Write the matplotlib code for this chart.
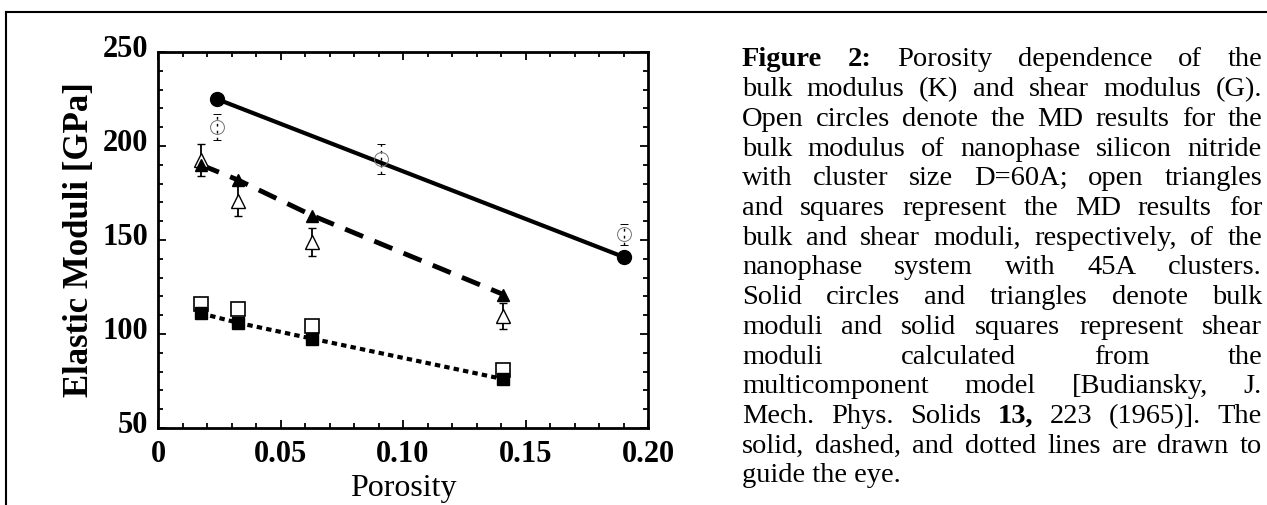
import numpy as np
import matplotlib
matplotlib.use("Agg")
import matplotlib.pyplot as plt
from matplotlib.lines import Line2D
from matplotlib.transforms import ScaledTranslation

# ---- data ----
por_60 = [0.024, 0.091, 0.19]
K_md_60 = [210, 193, 153]
K_md_60_err = [7, 8, 5.5]
por_60_model = [0.024, 0.19]
K_model_60 = [225, 141]

por_45 = [0.0175, 0.0325, 0.063, 0.141]
K_md_45 = [192.5, 171, 149, 109.5]
K_md_45_err = [8.5, 8, 7.5, 7]
K_model_45 = [190, 182, 163, 121]
G_md_45 = [116, 113.5, 104.5, 81]
G_model_45 = [111, 106, 97.5, 76]

xticks = [0, 0.05, 0.10, 0.15, 0.20]
xticklabels = ["0", "0.05", "0.10", "0.15", "0.20"]
yticks = [50, 100, 150, 200, 250]

caption = [
    "!Figure !2: Porosity dependence of the",
    "bulk modulus (K) and shear modulus (G).",
    "Open circles denote the MD results for the",
    "bulk modulus of nanophase silicon nitride",
    "with cluster size D=60A; open triangles",
    "and squares represent the MD results for",
    "bulk and shear moduli, respectively, of the",
    "nanophase system with 45A clusters.",
    "Solid circles and triangles denote bulk",
    "moduli and solid squares represent shear",
    "moduli calculated from the",
    "multicomponent model [Budiansky, J.",
    "Mech. Phys. Solids !13, 223 (1965)].  The",
    "solid, dashed, and dotted lines are drawn to",
    "guide the eye.",
]

W, H = 1267, 505
plt.rcParams["font.family"] = ["Liberation Serif", "DejaVu Serif"]
fig = plt.figure(figsize=(W / 100, H / 100), dpi=100)
ax = fig.add_axes([158 / W, 1 - 428 / H, 490 / W, 376 / H])

# guide lines
ax.plot(por_60_model, K_model_60, "-", color="k", lw=3, zorder=2)
ax.plot(por_45, K_model_45, color="k", lw=3.5, dashes=(4, 2.5), zorder=2)
ax.plot(por_45, G_model_45, color="k", lw=3, dashes=(1.3, 1), zorder=2)

# MD results
eb = ax.errorbar(por_60, K_md_60, yerr=K_md_60_err, fmt="o", ms=10, mfc="none",
                 mec="0.45", mew=0.7, ecolor="k", elinewidth=1, capsize=3, zorder=3)
eb[2][0].set_linestyle((0, (2, 3)))
ax.errorbar(por_45, K_md_45, yerr=K_md_45_err, fmt="^", ms=10, mfc="white",
            mec="k", mew=1, ecolor="k", elinewidth=1.3, capsize=3, zorder=3)
ax.plot(por_45, G_md_45, "s", ms=10, mfc="white", mec="k", mew=1.2, zorder=3)

# model points
ax.plot(por_60_model, K_model_60, "o", ms=10, color="k", zorder=4)
ax.plot(por_45, K_model_45, "^", ms=9, color="k", zorder=4)
ax.plot(por_45, G_model_45, "s", ms=9, color="k", zorder=4)

ax.set_xlim(0, 0.20)
ax.set_ylim(50, 250)
ax.set_xticks(xticks)
ax.set_xticklabels(xticklabels)
ax.set_yticks(yticks)
ax.set_xticks(np.arange(0, 0.2001, 0.01), minor=True)
ax.set_yticks(np.arange(50, 251, 10), minor=True)
ax.tick_params(which="both", direction="in", top=True, right=True, width=1.3)
ax.tick_params(which="major", length=6, labelsize=22, pad=7)
ax.tick_params(axis="x", which="major", pad=9)
ax.tick_params(which="minor", length=3.5)
for lab in ax.get_xticklabels() + ax.get_yticklabels():
    lab.set_fontweight("bold")
for lab in ax.get_yticklabels():
    lab.set_transform(lab.get_transform() + ScaledTranslation(0, 0.06, fig.dpi_scale_trans))
for s in ax.spines.values():
    s.set_linewidth(2)

ax.set_xlabel("Porosity", fontsize=23, labelpad=3)
ax.set_ylabel("Elastic Moduli [GPa]", fontsize=25, fontweight="bold", labelpad=5)

# page frame
fig.add_artist(Line2D([6 / W, 1], [1 - 11.5 / H] * 2, color="k", lw=1.5))
fig.add_artist(Line2D([6 / W] * 2, [0, 1 - 11.5 / H], color="k", lw=1.5))

# justified caption
fs = 20.5
x0, x1 = 742, 1262
base0, step = 66.5, 29.7
renderer = fig.canvas.get_renderer()
for i, line in enumerate(caption):
    yb = 1 - (base0 + i * step) / H
    words = line.split()
    if i == len(caption) - 1:
        fig.text(x0 / W, yb, line, fontsize=fs, va="baseline", ha="left")
        continue
    texts = []
    for w in words:
        bold = w.startswith("!")
        t = fig.text(0, yb, w.lstrip("!"), fontsize=fs, va="baseline", ha="left",
                     fontweight="bold" if bold else "normal")
        texts.append(t)
    widths = [t.get_window_extent(renderer).width for t in texts]
    gap = (x1 - x0 - sum(widths)) / (len(texts) - 1)
    x = x0
    for t, wd in zip(texts, widths):
        t.set_x(x / W)
        x += wd + gap

fig.savefig("out.png", dpi=100)
